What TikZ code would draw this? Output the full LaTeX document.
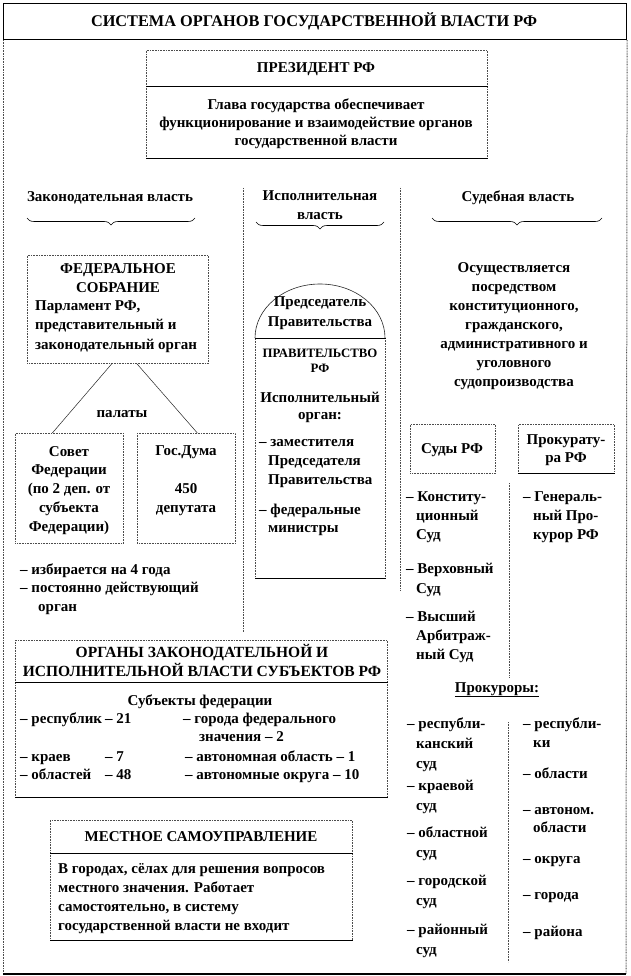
\documentclass[tikz,border=0pt]{standalone}
\usepackage{fontspec}
\setmainfont{Liberation Serif}
\usetikzlibrary{decorations.pathreplacing}
\begin{document}
\begin{tikzpicture}[x=1pt,y=-1pt,
  dotln/.style={draw=black!70, line width=0.7pt, dash pattern=on 0.8pt off 0.8pt},
  solidln/.style={draw=black, line width=0.8pt},
  boxn/.style={dotln, rectangle, inner sep=0pt, anchor=north west},
  txt/.style={font=\bfseries\fontsize{15}{19}\selectfont, inner sep=0pt, anchor=base, align=center},
  txl/.style={txt, align=left, anchor=base west},
  bracest/.style={decorate, decoration={brace, mirror, amplitude=7pt}, draw=black, line width=0.6pt},
]
\useasboundingbox (0,0) rectangle (630,976);
\fill[white] (0,0) rectangle (630,976);

% outer frame
\node[draw, line width=1.1pt, rectangle, inner sep=0pt, anchor=north west, minimum width=623, minimum height=36] (titlebox) at (3,3) {};
\node[txt, font=\bfseries\fontsize{16.3}{19}\selectfont] (title) at (314,26.5) {СИСТЕМА  ОРГАНОВ ГОСУДАРСТВЕННОЙ  ВЛАСТИ РФ};
\coordinate (fbl) at (3,974);
\coordinate (fbr) at (626,974);
\draw[dotln, line width=1pt] (titlebox.south west) -- (fbl);
\draw[dotln, line width=1pt] (titlebox.south east) -- (fbr);
\draw[solidln, line width=1.1pt] (fbl) -- (fbr);

% president
\node[boxn, minimum width=341, minimum height=108] (pres) at (146,50) {};
\draw[solidln] ([yshift=-36pt]pres.north west) -- ([yshift=-36pt]pres.north east);
\draw[solidln] (pres.south west) -- (pres.south east);
\node[txt] (prest) at (316,73) {ПРЕЗИДЕНТ  РФ};
\node[txt, font=\bfseries\fontsize{15}{18}\selectfont] (presb) at (316,146) {Глава государства  обеспечивает\\функционирование и взаимодействие органов\\государственной власти};

% headings and braces
\node[txt] (h1) at (110,202) {Законодательная власть};
\node[txt] (h2) at (320,220) {Исполнительная\\власть};
\node[txt] (h3) at (518,202) {Судебная власть};
\coordinate (b1l) at (27,218); \coordinate (b1r) at (195,218);
\coordinate (b2l) at (256,222); \coordinate (b2r) at (384,222);
\coordinate (b3l) at (432,218); \coordinate (b3r) at (602,218);
\draw[bracest] (b1l) -- (b1r);
\draw[bracest] (b2l) -- (b2r);
\draw[bracest] (b3l) -- (b3r);

% separators
\coordinate (s1t) at (243,188); \coordinate (s1b) at (243,632);
\coordinate (s2t) at (400,188); \coordinate (s2b) at (400,590);
\coordinate (s3t) at (509,483); \coordinate (s3b) at (509,677);
\coordinate (s4t) at (508,722); \coordinate (s4b) at (508,962);
\draw[dotln] (s1t) -- (s1b);
\draw[dotln] (s2t) -- (s2b);
\draw[dotln] (s3t) -- (s3b);
\draw[dotln] (s4t) -- (s4b);

% federal assembly
\node[boxn, minimum width=181, minimum height=108] (fs) at (27,255) {};
\node[txt] (fst) at (118,292) {ФЕДЕРАЛЬНОЕ\\СОБРАНИЕ};
\node[txl, font=\bfseries\fontsize{15}{19.5}\selectfont] (fsb) at (35,349) {Парламент РФ,\\представительный и\\законодательный орган};
\node[boxn, minimum width=108, minimum height=110] (sf) at (15,433) {};
\node[boxn, minimum width=98, minimum height=110] (gd) at (137,433) {};
\draw[draw=black!85, line width=0.5pt] ([xshift=-6pt]fs.south) -- ([xshift=-17pt]sf.north);
\draw[draw=black!85, line width=0.5pt] ([xshift=19pt]fs.south) -- ([xshift=11pt]gd.north);
\node[txt] (pal) at (122,417) {палаты};
\node[txt, font=\bfseries\fontsize{15}{18.75}\selectfont] (sft) at (69,531) {Совет\\Федерации\\(по 2 деп. от\\субъекта\\Федерации)};
\node[txt, font=\bfseries\fontsize{15}{18.75}\selectfont] (gdt) at (186,512) {Гос.Дума\\[18.75pt]450\\депутата};
\node[txl, font=\bfseries\fontsize{15}{18.5}\selectfont] (fsl) at (20,611) {– избирается на 4 года\\– постоянно действующий\\\hspace*{18pt}орган};

% government
\node[boxn, minimum width=130, minimum height=240] (gov) at (255,338) {};
\draw[draw=black!85, line width=0.6pt] (gov.north west) arc[start angle=180, end angle=0, x radius=65pt, y radius=54pt];
\draw[solidln] (gov.north west) -- (gov.north east);
\draw[solidln] (gov.south west) -- (gov.south east);
\node[txt, font=\bfseries\fontsize{15}{20}\selectfont] (pred) at (320,326) {Председатель\\Правительства};
\node[txt, font=\bfseries\fontsize{12.8}{15}\selectfont] (pravt) at (320,372) {ПРАВИТЕЛЬСТВО\\РФ};
\node[txt, font=\bfseries\fontsize{15}{17.5}\selectfont] (isp) at (320,419.5) {Исполнительный\\орган:};
\node[txl] (zam) at (259,484) {– заместителя\\\hspace*{9pt}Председателя\\\hspace*{9pt}Правительства};
\node[txl, font=\bfseries\fontsize{15}{18}\selectfont] (fedm) at (259,532) {– федеральные\\\hspace*{9pt}министры};

% judicial
\node[txt] (jud) at (514,386) {Осуществляется\\посредством\\конституционного,\\гражданского,\\административного и\\уголовного\\судопроизводства};
\node[boxn, minimum width=85, minimum height=49] (sud) at (410,424) {};
\node[boxn, minimum width=96, minimum height=49] (prk) at (518,424) {};
\draw[solidln] (prk.south west) -- (prk.south east);
\node[txt] (sudt) at (452,453) {Суды РФ};
\node[txt, font=\bfseries\fontsize{15}{18}\selectfont] (prkt) at (566,462) {Прокурату-\\ра РФ};
\node[txl] (ks) at (406,539) {– Конститу-\\\hspace*{10pt}ционный\\\hspace*{10pt}Суд};
\node[txl, font=\bfseries\fontsize{15}{20}\selectfont] (vs) at (406,593) {– Верховный\\\hspace*{10pt}Суд};
\node[txl] (vas) at (406,659) {– Высший\\\hspace*{10pt}Арбитраж-\\\hspace*{10pt}ный Суд};
\node[txl] (gp) at (523,539) {– Генераль-\\\hspace*{10pt}ный Про-\\\hspace*{10pt}курор РФ};
\node[txt] (prokt) at (497,692) {\underline{Прокуроры:}};

\node[txl, font=\bfseries\fontsize{15}{20}\selectfont] (c1) at (407,768) {– республи-\\\hspace*{9pt}канский\\\hspace*{9pt}суд};
\node[txl, font=\bfseries\fontsize{15}{20}\selectfont] (c2) at (407,810) {– краевой\\\hspace*{9pt}суд};
\node[txl, font=\bfseries\fontsize{15}{20}\selectfont] (c3) at (407,857) {– областной\\\hspace*{9pt}суд};
\node[txl, font=\bfseries\fontsize{15}{20}\selectfont] (c4) at (407,905) {– городской\\\hspace*{9pt}суд};
\node[txl, font=\bfseries\fontsize{15}{20}\selectfont] (c5) at (407,954) {– районный\\\hspace*{9pt}суд};
\node[txl, font=\bfseries\fontsize{15}{19}\selectfont] (p1) at (523,747) {– республи-\\\hspace*{10pt}ки};
\node[txl] (p2) at (523,778) {– области};
\node[txl, font=\bfseries\fontsize{15}{18}\selectfont] (p3) at (523,832) {– автоном.\\\hspace*{10pt}области};
\node[txl] (p4) at (523,863) {– округа};
\node[txl] (p5) at (523,899) {– города};
\node[txl] (p6) at (523,936) {– района};

% subjects
\node[boxn, minimum width=372, minimum height=157] (sub) at (15,640) {};
\draw[solidln] ([yshift=-42pt]sub.north west) -- ([yshift=-42pt]sub.north east);
\draw[solidln] (sub.south west) -- (sub.south east);
\node[txt, font=\bfseries\fontsize{15.5}{19}\selectfont] (subt) at (202,676) {ОРГАНЫ ЗАКОНОДАТЕЛЬНОЙ  И\\ИСПОЛНИТЕЛЬНОЙ  ВЛАСТИ СУБЪЕКТОВ РФ};
\node[txt] (subh) at (200,705) {Субъекты  федерации};
\node[txl] (r1) at (20,723) {– республик};
\node[txl] (r1n) at (105,723) {– 21};
\node[txl] (r2) at (20,761) {– краев};
\node[txl] (r2n) at (105,761) {– 7};
\node[txl] (r3) at (20,779) {– областей};
\node[txl] (r3n) at (105,779) {– 48};
\node[txl] (q1) at (183,723) {– города федерального};
\node[txl] (q1b) at (199,741) {значения – 2};
\node[txl] (q2) at (185,761) {– автономная область – 1};
\node[txl] (q3) at (185,779) {– автономные округа – 10};

% local government
\node[boxn, minimum width=302, minimum height=120] (loc) at (50,820) {};
\draw[solidln] ([yshift=-33pt]loc.north west) -- ([yshift=-33pt]loc.north east);
\draw[solidln] (loc.south west) -- (loc.south east);
\node[txt] (loct) at (201,841) {МЕСТНОЕ  САМОУПРАВЛЕНИЕ};
\node[txl, font=\bfseries\fontsize{15}{18.7}\selectfont] (locb) at (58,930) {В городах,  сёлах для решения вопросов\\местного значения. Работает\\самостоятельно, в систему\\государственной власти не входит};
\end{tikzpicture}
\end{document}
